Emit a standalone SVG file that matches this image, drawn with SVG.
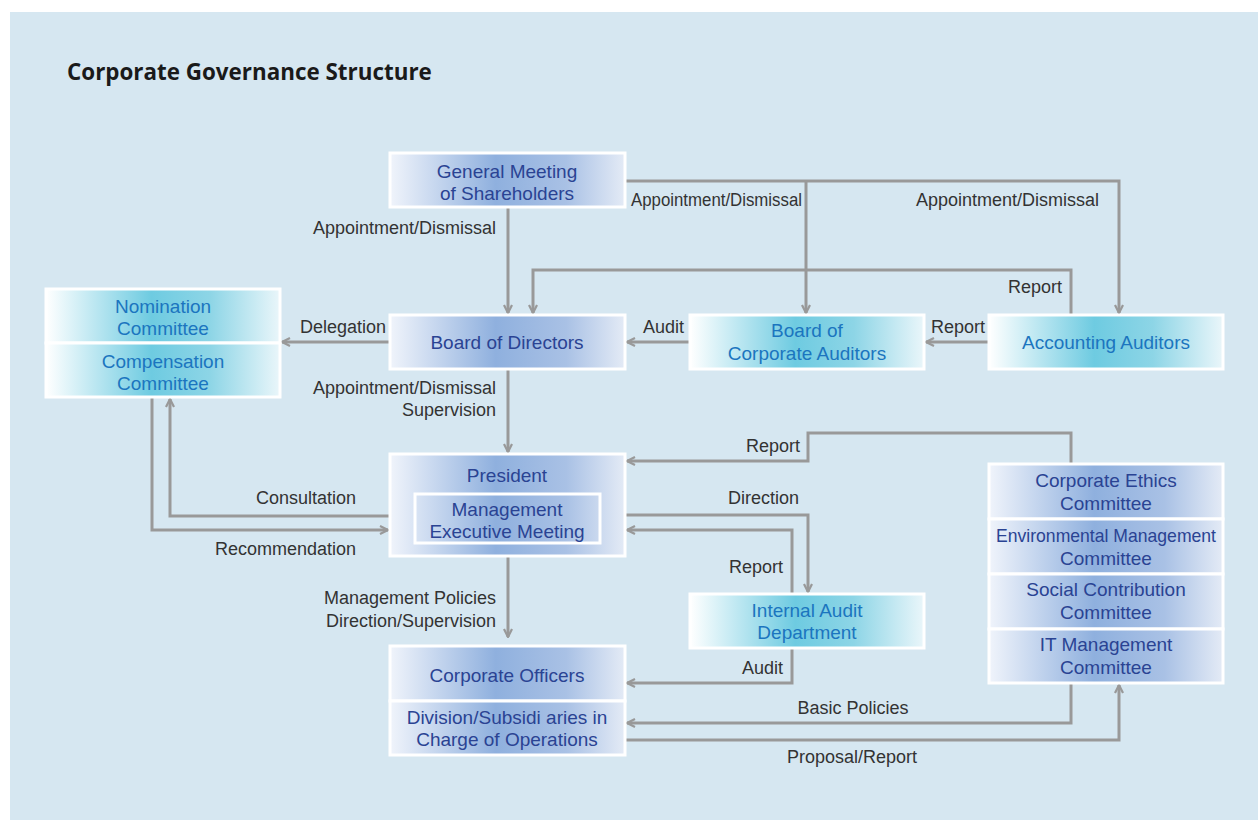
<svg xmlns="http://www.w3.org/2000/svg" width="1258" height="820" viewBox="0 0 1258 820">
<defs>
<linearGradient id="gb" x1="0" y1="0" x2="1" y2="0">
<stop offset="0" stop-color="#f0f4fb"/>
<stop offset="0.45" stop-color="#8fb0de"/>
<stop offset="0.75" stop-color="#a9c1e5"/>
<stop offset="1" stop-color="#e4ebf6"/>
</linearGradient>
<linearGradient id="gc" x1="0" y1="0" x2="1" y2="0">
<stop offset="0" stop-color="#ffffff"/>
<stop offset="0.45" stop-color="#6ecbe1"/>
<stop offset="0.7" stop-color="#8dd5e6"/>
<stop offset="1" stop-color="#eaf6fa"/>
</linearGradient>
<marker id="ar" viewBox="0 0 10 10" refX="9" refY="5" markerWidth="10" markerHeight="10" markerUnits="userSpaceOnUse" orient="auto">
<path d="M1,1 L9,5 L1,9" fill="none" stroke="#999" stroke-width="2.2"/>
</marker>
<style>
.bg{fill:#d6e7f1}
.nb{fill:url(#gb);stroke:#fff;stroke-width:3}
.nc{fill:url(#gc);stroke:#fff;stroke-width:3}
.in{fill:none;stroke:#fff;stroke-width:3}
.tb{font-family:"Liberation Sans",Arial,sans-serif;font-size:19px;fill:#2a4393;text-anchor:middle}
.tc{font-family:"Liberation Sans",Arial,sans-serif;font-size:19px;fill:#1b75bf;text-anchor:middle}
.lb{font-family:"Liberation Sans",Arial,sans-serif;font-size:18px;fill:#333}
.ln{fill:none;stroke:#999;stroke-width:3}
.title{font-family:"Open Sans","Liberation Sans",sans-serif;font-size:22.4px;font-weight:bold;fill:#1a1a1a}
</style>
</defs>
<rect x="10" y="12" width="1248" height="808" class="bg"/>
<text class="title" x="67" y="80">Corporate Governance Structure</text>

<g id="connectors">
<path class="ln" d="M508,208 V313" marker-end="url(#ar)"/>
<path class="ln" d="M626,181 H1119 V313" marker-end="url(#ar)"/>
<path class="ln" d="M806,181 V313" marker-end="url(#ar)"/>
<path class="ln" d="M1071,314 V270 H533 V313" marker-end="url(#ar)"/>
<path class="ln" d="M988,342 H926" marker-end="url(#ar)"/>
<path class="ln" d="M689,342 H627" marker-end="url(#ar)"/>
<path class="ln" d="M389,342 H282" marker-end="url(#ar)"/>
<path class="ln" d="M508,370 V452" marker-end="url(#ar)"/>
<path class="ln" d="M1071,463 V433 H808 V461 H627" marker-end="url(#ar)"/>
<path class="ln" d="M389,516 H170 V399" marker-end="url(#ar)"/>
<path class="ln" d="M152,398 V530 H388" marker-end="url(#ar)"/>
<path class="ln" d="M626,515 H808 V592" marker-end="url(#ar)"/>
<path class="ln" d="M792,593 V530 H627" marker-end="url(#ar)"/>
<path class="ln" d="M792,649 V683 H627" marker-end="url(#ar)"/>
<path class="ln" d="M508,557 V637" marker-end="url(#ar)"/>
<path class="ln" d="M1071,684 V723 H627" marker-end="url(#ar)"/>
<path class="ln" d="M626,740 H1119 V685" marker-end="url(#ar)"/>
</g>

<g id="labels">
<text class="lb" x="496" y="234" text-anchor="end">Appointment/Dismissal</text>
<text class="lb" x="631" y="206" textLength="171" lengthAdjust="spacingAndGlyphs">Appointment/Dismissal</text>
<text class="lb" x="916" y="206">Appointment/Dismissal</text>
<text class="lb" x="1062" y="293" text-anchor="end">Report</text>
<text class="lb" x="985" y="333" text-anchor="end">Report</text>
<text class="lb" x="684" y="333" text-anchor="end">Audit</text>
<text class="lb" x="386" y="333" text-anchor="end">Delegation</text>
<text class="lb" x="496" y="394" text-anchor="end">Appointment/Dismissal</text>
<text class="lb" x="496" y="416" text-anchor="end">Supervision</text>
<text class="lb" x="800" y="452" text-anchor="end">Report</text>
<text class="lb" x="356" y="504" text-anchor="end">Consultation</text>
<text class="lb" x="356" y="555" text-anchor="end">Recommendation</text>
<text class="lb" x="799" y="504" text-anchor="end">Direction</text>
<text class="lb" x="783" y="573" text-anchor="end">Report</text>
<text class="lb" x="783" y="674" text-anchor="end">Audit</text>
<text class="lb" x="496" y="604" text-anchor="end">Management Policies</text>
<text class="lb" x="496" y="627" text-anchor="end">Direction/Supervision</text>
<text class="lb" x="853" y="714" text-anchor="middle">Basic Policies</text>
<text class="lb" x="852" y="763" text-anchor="middle">Proposal/Report</text>
</g>

<g id="general-meeting">
<rect class="nb" x="390" y="153" width="235" height="54"/>
<text class="tb" x="507" y="178">General Meeting</text>
<text class="tb" x="507" y="200">of Shareholders</text>
</g>
<g id="board-of-directors">
<rect class="nb" x="390" y="315" width="235" height="54"/>
<text class="tb" x="507" y="349">Board of Directors</text>
</g>
<g id="board-of-corporate-auditors">
<rect class="nc" x="690" y="315" width="234" height="54"/>
<text class="tc" x="807" y="337">Board of</text>
<text class="tc" x="807" y="360">Corporate Auditors</text>
</g>
<g id="accounting-auditors">
<rect class="nc" x="989" y="315" width="234" height="54"/>
<text class="tc" x="1106" y="349">Accounting Auditors</text>
</g>
<g id="nomination-compensation">
<rect class="nc" x="46" y="289" width="234" height="54"/>
<rect class="nc" x="46" y="343" width="234" height="54"/>
<text class="tc" x="163" y="313">Nomination</text>
<text class="tc" x="163" y="335">Committee</text>
<text class="tc" x="163" y="368">Compensation</text>
<text class="tc" x="163" y="390">Committee</text>
</g>
<g id="president">
<rect class="nb" x="390" y="454" width="235" height="102"/>
<rect class="in" x="415" y="494" width="185" height="49"/>
<text class="tb" x="507" y="482">President</text>
<text class="tb" x="507" y="516">Management</text>
<text class="tb" x="507" y="538">Executive Meeting</text>
</g>
<g id="internal-audit">
<rect class="nc" x="690" y="594" width="234" height="54"/>
<text class="tc" x="807" y="617">Internal Audit</text>
<text class="tc" x="807" y="639">Department</text>
</g>
<g id="corporate-officers">
<rect class="nb" x="390" y="646" width="235" height="55"/>
<rect class="nb" x="390" y="701" width="235" height="54"/>
<text class="tb" x="507" y="682">Corporate Officers</text>
<text class="tb" x="507" y="724">Division/Subsidi aries in</text>
<text class="tb" x="507" y="746">Charge of Operations</text>
</g>
<g id="committees">
<rect class="nb" x="989" y="464" width="234" height="55"/>
<rect class="nb" x="989" y="519" width="234" height="55"/>
<rect class="nb" x="989" y="574" width="234" height="55"/>
<rect class="nb" x="989" y="629" width="234" height="54"/>
<text class="tb" x="1106" y="487">Corporate Ethics</text>
<text class="tb" x="1106" y="510">Committee</text>
<text class="tb" x="1106" y="542" textLength="220" lengthAdjust="spacingAndGlyphs">Environmental Management</text>
<text class="tb" x="1106" y="565">Committee</text>
<text class="tb" x="1106" y="596">Social Contribution</text>
<text class="tb" x="1106" y="619">Committee</text>
<text class="tb" x="1106" y="651">IT Management</text>
<text class="tb" x="1106" y="674">Committee</text>
</g>
</svg>
